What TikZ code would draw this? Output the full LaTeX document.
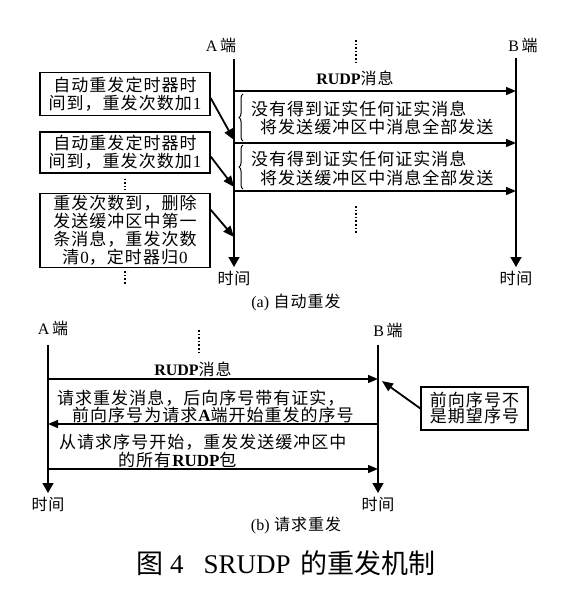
\documentclass[tikz,border=0pt]{standalone}
\usepackage{fontspec}
\setmainfont{Liberation Serif}
\newfontfamily\cjk[LetterSpace=6]{Noto Sans CJK SC}
\newfontfamily\cjkcap{Noto Sans CJK SC}
\usetikzlibrary{arrows.meta,positioning,decorations.pathreplacing,calc}
\newcommand{\lt}[1]{\textrm{#1}}
\newcommand{\rudp}{\textrm{\bfseries RUDP}}

\begin{document}
\begin{tikzpicture}[x=1pt, y=-1pt,
    lbl/.style={font=\fontsize{16}{18}\selectfont\cjk, inner sep=0pt},
    msg/.style={font=\fontsize{17}{18.5}\selectfont\cjk, align=left, inner sep=0pt, anchor=west},
    note/.style={rectangle, draw=black, line width=1.3pt, font=\fontsize{17}{18}\selectfont\cjk, align=center, minimum width=170pt, inner sep=2pt},
    axis/.style={-{Triangle[width=11pt,length=10pt]}, line width=1.6pt},
    arr/.style={-{Triangle[width=8pt,length=10pt]}, line width=1.4pt},
    hit/.style={-{Triangle[width=9pt,length=11pt]}, line width=1.8pt},
    brc/.style={decorate, decoration={brace, amplitude=4pt}, line width=1pt},
    vdot/.style={dotted, line width=1.6pt}
]
\useasboundingbox (0,0) rectangle (579,590);

% (a) automatic retransmission
\node[lbl] (aA) at (221,45) {\lt{A}\,端};
\node[lbl] (aB) at (523,45) {\lt{B}\,端};
\coordinate (aAt) at (234,59);
\coordinate (aAb) at (234,267);
\coordinate (aBt) at (516,58);
\coordinate (aBb) at (516,267);
\draw[axis] (aAt) -- (aAb);
\draw[axis] (aBt) -- (aBb);
\node[lbl, below=4pt of aAb] (aAtime) {时间};
\node[lbl, below=4pt of aBb] (aBtime) {时间};

\draw[vdot] (356,40) -- (356,63);
\node[lbl] (rudpA) at (355,78) {\rudp 消息};

\foreach \y [count=\i] in {91,143,191} {
  \coordinate (aL\i) at (234,\y);
  \coordinate (aR\i) at (516,\y);
  \draw[arr] (aL\i) -- (aR\i);
}
\draw[brc] ($(aL2)+(9,-2)$) -- ($(aL1)+(9,3)$);
\draw[brc] ($(aL3)+(9,-2)$) -- ($(aL2)+(9,2)$);

\node[msg] (lost1) at (251,118) {没有得到证实任何证实消息\\\hspace*{9pt}将发送缓冲区中消息全部发送};
\node[msg] (lost2) at (251,168.5) {没有得到证实任何证实消息\\\hspace*{9pt}将发送缓冲区中消息全部发送};
\draw[vdot] (356,206) -- (356,234);

% timer boxes
\node[note, minimum height=43pt] (tmr1) at (125,94) {自动重发定时器时\\间到，重发次数加\lt{1}};
\node[note, minimum height=41pt] (tmr2) at (125,152.5) {自动重发定时器时\\间到，重发次数加\lt{1}};
\node[note, minimum height=71pt] (drop) at (125,230.5) {重发次数到，删除\\发送缓冲区中第一\\条消息，重发次数\\清\lt{0}，定时器归\lt{0}};
\draw[vdot] ($(tmr2.south)+(0,5)$) -- ($(drop.north)+(0,-3)$);
\draw[vdot] ($(drop.south)+(0,3)$) -- ($(drop.south)+(0,16)$);

\coordinate (hit1) at (234,140);
\coordinate (hit2) at (234,187);
\coordinate (hit3) at (234,237);
\draw[hit] ([yshift=-4pt]tmr1.east) -- (hit1);
\draw[hit] ([yshift=-4pt]tmr2.east) -- (hit2);
\draw[hit] ([yshift=-17pt]drop.north east) -- (hit3);

\node[lbl] (capA) at (296,302) {\lt{(a)}\ 自动重发};

% (b) requested retransmission
\node[lbl] (bA) at (53,328) {\lt{A}\,端};
\node[lbl] (bB) at (388,330) {\lt{B}\,端};
\coordinate (bAt) at (48,345);
\coordinate (bAb) at (48,493);
\coordinate (bBt) at (378,345);
\coordinate (bBb) at (378,493);
\draw[axis] (bAt) -- (bAb);
\draw[axis] (bBt) -- (bBb);
\node[lbl, below=4pt of bAb] (bAtime) {时间};
\node[lbl, below=4pt of bBb] (bBtime) {时间};

\draw[vdot] (199,330) -- (199,352);
\node[lbl] (rudpB) at (193,369) {\rudp 消息};

\foreach \y [count=\i] in {379,424,469} {
  \coordinate (bL\i) at (48,\y);
  \coordinate (bR\i) at (378,\y);
}
\draw[arr] (bL1) -- (bR1);
\draw[arr] (bR2) -- (bL2);
\draw[arr] (bL3) -- (bR3);

\node[msg, font=\fontsize{17}{15}\selectfont\cjk] (req) at (57,406.5) {请求重发消息，后向序号带有证实，\\\hspace*{15pt}前向序号为请求\textrm{\bfseries A}端开始重发的序号};
\node[msg, font=\fontsize{17}{16}\selectfont\cjk] (resend) at (59,451) {从请求序号开始，重发发送缓冲区中\\\hspace*{59pt}的所有\rudp 包};

\node[note, minimum width=107pt, minimum height=43pt, font=\fontsize{17}{16}\selectfont\cjk] (unexp) at (474.5,408.5) {前向序号不\\是期望序号};
\coordinate (bq) at (382,381);
\draw[hit] (unexp.west) -- (bq);

\node[lbl] (capB) at (296,525) {\lt{(b)}\ 请求重发};
\node[font=\fontsize{27}{30}\selectfont, inner sep=0pt] (fig) at (286,563) {{\cjkcap 图}\ 4\hspace{20pt}SRUDP\hspace{10pt}{\cjkcap 的重发机制}};
\end{tikzpicture}
\end{document}
